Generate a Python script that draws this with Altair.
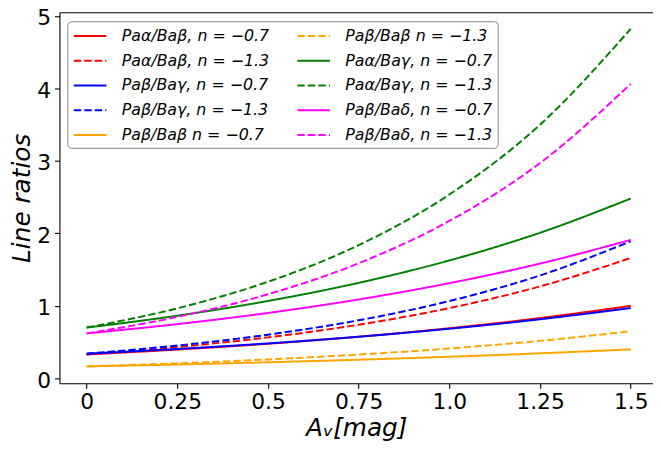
import altair as alt
import pandas as pd

# A_v values (mag) at which the curves were read
av = [0.0, 0.25, 0.5, 0.75, 1.0, 1.25, 1.5]

# Line ratios
paa_bab_07 = [0.33, 0.397, 0.477, 0.574, 0.691, 0.831, 1.00]
paa_bab_13 = [0.33, 0.432, 0.565, 0.740, 0.969, 1.268, 1.66]
pab_bag_07 = [0.34, 0.405, 0.482, 0.574, 0.684, 0.815, 0.97]
pab_bag_13 = [0.34, 0.453, 0.602, 0.801, 1.066, 1.419, 1.89]
pab_bab_07 = [0.165, 0.191, 0.222, 0.257, 0.298, 0.345, 0.40]
pab_bab_13 = [0.165, 0.207, 0.261, 0.328, 0.412, 0.517, 0.65]
paa_bag_07 = [0.70, 0.864, 1.067, 1.317, 1.626, 2.008, 2.48]
paa_bag_13 = [0.70, 0.966, 1.332, 1.837, 2.535, 3.498, 4.82]
pab_bad_07 = [0.62, 0.748, 0.902, 1.088, 1.313, 1.583, 1.91]
pab_bad_13 = [0.62, 0.848, 1.160, 1.587, 2.171, 2.969, 4.06]

labels = [
    "Paα/Baβ, n = −0.7",
    "Paα/Baβ, n = −1.3",
    "Paβ/Baγ, n = −0.7",
    "Paβ/Baγ, n = −1.3",
    "Paβ/Baβ n = −0.7",
    "Paβ/Baβ n = −1.3",
    "Paα/Baγ, n = −0.7",
    "Paα/Baγ, n = −1.3",
    "Paβ/Baδ, n = −0.7",
    "Paβ/Baδ, n = −1.3",
]
series = [paa_bab_07, paa_bab_13, pab_bag_07, pab_bag_13, pab_bab_07,
          pab_bab_13, paa_bag_07, paa_bag_13, pab_bad_07, pab_bad_13]
colors = ["#ff0000", "#ff0000", "#0000ff", "#0000ff", "#ffa500",
          "#ffa500", "#008000", "#008000", "#ff00ff", "#ff00ff"]
dashed = [False, True, False, True, False, True, False, True, False, True]

rows = []
for lab, vals in zip(labels, series):
    for x, y in zip(av, vals):
        rows.append({"Av": x, "ratio": y, "series": lab})
df = pd.DataFrame(rows)

dash_range = [[7.4, 3.2] if d else [1, 0] for d in dashed]

FONT = "DejaVu Sans"

leg = alt.Legend(
    title=None, orient="none", legendX=8, legendY=9, columns=2,
    columnPadding=23, rowPadding=7, padding=5,
    labelFont=FONT, labelFontSize=16, labelFontStyle="italic", labelColor="black",
    labelOffset=22, symbolSize=324, symbolStrokeWidth=2, symbolType="M-1.83,0H1.83",
    symbolOffset=8,
    strokeColor="#888888", fillColor="rgba(255,255,255,0.85)", cornerRadius=4,
    labelLimit=400,
)

x_scale = alt.Scale(domain=[-0.075, 1.5614], nice=False, zero=False)
y_scale = alt.Scale(domain=[-0.068, 5.048], nice=False, zero=False)

axis_common = dict(
    titleFontStyle="italic", titleFontWeight="normal", titleFontSize=25, titleFont=FONT,
    labelFont=FONT, labelFontSize=22, tickSize=5, tickColor="black",
    domainColor="black", labelColor="black", titleColor="black", grid=False,
)

lines = alt.Chart(df).mark_line(strokeWidth=2, interpolate="monotone", clip=True).encode(
    x=alt.X("Av:Q", scale=x_scale,
            axis=alt.Axis(values=av,
                          labelExpr="datum.value == 1 ? '1.0' : format(datum.value, '~g')",
                          title="Aᵥ[mag]", titlePadding=4, labelPadding=3, **axis_common)),
    y=alt.Y("ratio:Q", scale=y_scale,
            axis=alt.Axis(values=[0, 1, 2, 3, 4, 5], format="d", title="Line ratios",
                          titlePadding=2, labelPadding=4, labelOffset=2, **axis_common)),
    color=alt.Color("series:N", scale=alt.Scale(domain=labels, range=colors), legend=leg),
    strokeDash=alt.StrokeDash("series:N", scale=alt.Scale(domain=labels, range=dash_range), legend=leg),
    detail="series:N",
)

top_frame = alt.Chart(df).mark_line(opacity=0).encode(
    x=alt.X("Av:Q", scale=x_scale,
            axis=alt.Axis(orient="top", labels=False, ticks=False, title=None,
                          domainColor="black", grid=False)),
    y=alt.Y("ratio:Q", scale=y_scale),
    detail="series:N",
)

chart = alt.layer(lines, top_frame).resolve_axis(x="independent").properties(
    width=600, height=375,
    autosize=alt.AutoSizeParams(type="none"),
    padding={"left": 52, "top": 2, "right": 0, "bottom": 57},
).configure_view(stroke=None).configure_axis(domainWidth=1.1, tickWidth=1.1)

chart.save("out.html", embed_options={"renderer": "svg", "actions": False})
